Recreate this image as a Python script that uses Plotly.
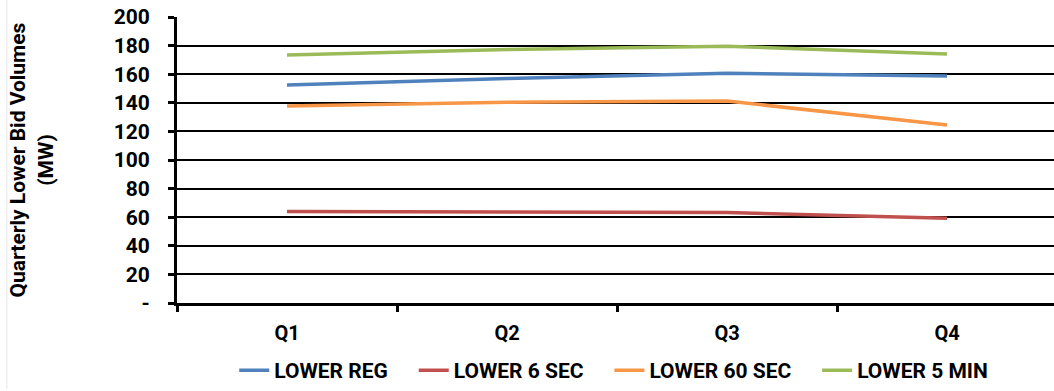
import plotly.graph_objects as go

quarters = ["Q1", "Q2", "Q3", "Q4"]
lower_reg = [152.5, 157, 160.6, 158.8]
lower_6sec = [64, 63.3, 63.2, 59.3]
lower_60sec = [137.8, 140.3, 141.2, 124.5]
lower_5min = [173.4, 177.3, 179.5, 174.1]

series = [
    ("LOWER REG", lower_reg, "#4F81BD"),
    ("LOWER 6 SEC", lower_6sec, "#C0504D"),
    ("LOWER 60 SEC", lower_60sec, "#F79646"),
    ("LOWER 5 MIN", lower_5min, "#9BBB59"),
]

pad = "\u00a0" * 4
fig = go.Figure()
for i, (name, vals, col) in enumerate(series):
    label = name + (pad if i < len(series) - 1 else "")
    fig.add_trace(go.Scatter(x=quarters, y=vals, mode="lines", name=label,
                             line=dict(color=col, width=3.5)))

font_family = "Roboto, Arial, sans-serif"
fig.update_layout(
    width=1054, height=391,
    margin=dict(l=177, r=0, t=17, b=88),
    paper_bgcolor="white", plot_bgcolor="white",
    font=dict(family=font_family, color="black"),
    showlegend=True,
    legend=dict(orientation="h", x=0.498, xanchor="center", y=-0.3077, yanchor="bottom",
                font=dict(size=21, family=font_family, weight="bold"),
                borderwidth=0, tracegroupgap=0),
    shapes=[dict(type="line", xref="paper", yref="paper", x0=-0.194, x1=-0.194,
                 y0=-0.3, y1=1.06, line=dict(color="#e6e6e6", width=1))],
)
fig.update_xaxes(
    type="category", range=[-0.5, 3.486],
    showline=True, linecolor="black", linewidth=3,
    ticks="outside", tickson="boundaries", ticklen=6, tickwidth=3, tickcolor="black",
    showgrid=False, tickfont=dict(size=20, weight="bold"), ticklabelstandoff=10,
)
fig.update_yaxes(
    range=[0, 200],
    tickvals=[0, 20, 40, 60, 80, 100, 120, 140, 160, 180, 200],
    ticktext=["-", "20", "40", "60", "80", "100", "120", "140", "160", "180", "200"],
    showline=True, linecolor="black", linewidth=3,
    ticks="outside", ticklen=6, tickwidth=3, tickcolor="black",
    showgrid=True, gridcolor="black", gridwidth=2,
    zeroline=False,
    tickfont=dict(size=21, weight="bold"), ticklabelstandoff=14,
    title=dict(text="Quarterly Lower Bid Volumes<br>(MW)", font=dict(size=21, weight="bold"),
               standoff=55),
)

fig.write_html("out.html")
